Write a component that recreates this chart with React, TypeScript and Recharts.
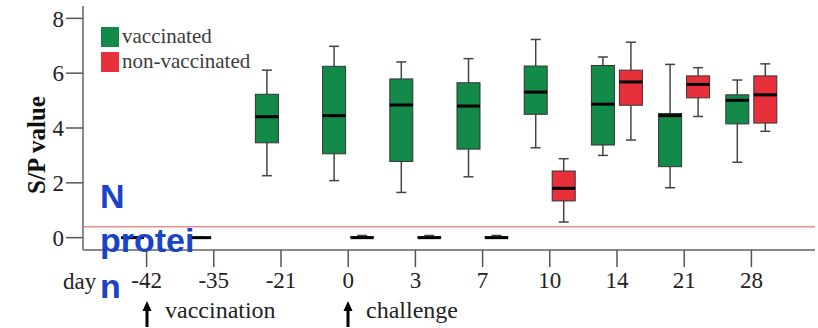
import React from 'react';
import {
  ComposedChart,
  Bar,
  XAxis,
  YAxis,
  ReferenceLine,
  Legend,
} from 'recharts';

// sampling days (x categories)
const days = ['-42', '-35', '-21', '0', '3', '7', '10', '14', '21', '28'];

// [min, q1, median, q3, max] per day, null = not sampled
const vaccinated: (number[] | null)[] = [
  [0, 0, 0, 0, 0.02],
  [0, 0, 0, 0, 0.02],
  [2.26, 3.46, 4.41, 5.23, 6.11],
  [2.08, 3.06, 4.45, 6.25, 6.98],
  [1.65, 2.78, 4.84, 5.79, 6.41],
  [2.22, 3.23, 4.8, 5.65, 6.53],
  [3.28, 4.5, 5.31, 6.26, 7.23],
  [3.0, 3.38, 4.87, 6.28, 6.59],
  [1.82, 2.59, 4.45, 4.53, 6.32],
  [2.75, 4.15, 5.01, 5.21, 5.75],
];

const nonVaccinated: (number[] | null)[] = [
  null,
  null,
  null,
  [0, 0, 0, 0.03, 0.08],
  [0, 0, 0, 0.03, 0.08],
  [0, 0, 0, 0.03, 0.08],
  [0.57, 1.34, 1.8, 2.43, 2.88],
  [3.56, 4.83, 5.68, 6.11, 7.13],
  [4.42, 5.1, 5.59, 5.9, 6.2],
  [3.88, 4.18, 5.21, 5.9, 6.34],
];

const legendOrder = ['vaccinated', 'non-vaccinated'];
const yTicks = [0, 2, 4, 6, 8];
const cutoff = 0.4;

const GREEN = '#138a48';
const RED = '#e8303a';
const SERIF = "'Liberation Serif', 'Times New Roman', serif";

const data = days.map((d, i) => ({
  day: d,
  vac: vaccinated[i],
  non: nonVaccinated[i],
  vacRange: vaccinated[i] ? [vaccinated[i]![0], vaccinated[i]![4]] : null,
  nonRange: nonVaccinated[i] ? [nonVaccinated[i]![0], nonVaccinated[i]![4]] : null,
}));

// draws a whole box plot inside the range bar [min, max] that recharts positioned
function makeBox(key: 'vac' | 'non', fill: string) {
  return (props: any) => {
    const { x, y, width, height, payload } = props;
    const s = payload && payload[key];
    if (!s || x == null || y == null) return <g />;
    const [mn, q1, med, q3, mx] = s;
    const top = Math.min(y, y + height);
    const bot = Math.max(y, y + height);
    const py = (v: number) => (mx === mn ? top : bot - ((v - mn) / (mx - mn)) * (bot - top));
    const cx = x + width / 2;
    const cap = 5;
    return (
      <g>
        <line x1={cx} x2={cx} y1={py(mx)} y2={py(q3)} stroke="#444" strokeWidth={1.5} />
        <line x1={cx} x2={cx} y1={py(q1)} y2={py(mn)} stroke="#444" strokeWidth={1.5} />
        <line x1={cx - cap} x2={cx + cap} y1={py(mx)} y2={py(mx)} stroke="#444" strokeWidth={1.5} />
        <line x1={cx - cap} x2={cx + cap} y1={py(mn)} y2={py(mn)} stroke="#444" strokeWidth={1.5} />
        <rect x={x} y={py(q3)} width={width} height={Math.max(0, py(q1) - py(q3))} fill={fill} stroke="#333" strokeWidth={1} />
        <line x1={x} x2={x + width} y1={py(med)} y2={py(med)} stroke="#000" strokeWidth={3} />
      </g>
    );
  };
}

function renderLegend(props: any) {
  const items = [...(props.payload || [])].sort(
    (a: any, b: any) => legendOrder.indexOf(a.value) - legendOrder.indexOf(b.value)
  );
  return (
    <div style={{ fontFamily: SERIF, fontSize: 21, color: '#3c3c3c' }}>
      {items.map((p: any) => (
        <div key={p.value} style={{ display: 'flex', alignItems: 'center', height: 25, lineHeight: '25px' }}>
          <span style={{ display: 'inline-block', width: 18, height: 20, background: p.color, marginRight: 3 }} />
          <span>{p.value}</span>
        </div>
      ))}
    </div>
  );
}

const Arrow = ({ x }: { x: number }) => (
  <g fill="#000">
    <rect x={x - 1.5} y={309} width={3} height={18} />
    <polygon points={`${x},${301} ${x - 4.5},${311} ${x + 4.5},${311}`} />
  </g>
);

export default function App() {
  const frame = { stroke: '#8a8a8a', strokeWidth: 2 };
  const tickStyle = { fill: '#222', fontSize: 23, fontFamily: SERIF };
  return (
    <div style={{ position: 'absolute', left: 0, top: 0, width: 818, height: 328, background: '#fff' }}>
      <ComposedChart
        width={818}
        height={328}
        data={data}
        margin={{ top: 6, right: 3, bottom: 0, left: 0 }}
        barSize={23}
        barGap={5}
      >
        <XAxis
          dataKey="day"
          height={78}
          interval={0}
          padding={{ left: 30, right: 30 }}
          tickSize={17}
          tickMargin={5}
          tick={tickStyle}
          axisLine={frame}
          tickLine={{ stroke: '#555', strokeWidth: 1.5 }}
        />
        <XAxis xAxisId="top" dataKey="day" orientation="top" height={0} tick={false} tickLine={false} axisLine={frame} padding={{ left: 30, right: 30 }} />
        <YAxis
          width={83}
          type="number"
          domain={[-0.45, 8.45]}
          allowDataOverflow
          ticks={yTicks}
          tickSize={17}
          tickMargin={2}
          tick={tickStyle}
          axisLine={frame}
          tickLine={{ stroke: '#555', strokeWidth: 1.5 }}
        />
        <YAxis yAxisId="right" orientation="right" width={0} type="number" domain={[-0.45, 8.45]} tick={false} tickLine={false} axisLine={frame} />
        <ReferenceLine y={cutoff} stroke="#f28c8c" strokeWidth={1.5} ifOverflow="extendDomain" />
        <Legend
          content={renderLegend}
          layout="horizontal"
          verticalAlign="middle"
          align="center"
          wrapperStyle={{ position: 'absolute', left: 101, top: 24, width: 'auto' }}
        />
        <Bar dataKey="vacRange" name="vaccinated" fill={GREEN} shape={makeBox('vac', GREEN)} isAnimationActive={false} />
        <Bar dataKey="nonRange" name="non-vaccinated" fill={RED} shape={makeBox('non', RED)} isAnimationActive={false} />
      </ComposedChart>
      <svg width={818} height={328} style={{ position: 'absolute', left: 0, top: 0, pointerEvents: 'none' }}>
        <text
          x={45}
          y={145}
          transform="rotate(-90, 45, 145)"
          textAnchor="middle"
          fontFamily={SERIF}
          fontWeight="bold"
          fontSize={25}
          fill="#111"
        >
          S/P value
        </text>
        <text x={63} y={289} fontFamily={SERIF} fontSize={23} fill="#222">day</text>
        <Arrow x={147} />
        <text x={165} y={318} fontFamily={SERIF} fontSize={24} fill="#222">vaccination</text>
        <Arrow x={348} />
        <text x={366} y={318} fontFamily={SERIF} fontSize={24} fill="#222">challenge</text>
        <text fontFamily="'Liberation Sans', Arial, sans-serif" fontWeight="bold" fontSize={34} fill="#1a44c8">
          <tspan x={100} y={208}>N</tspan>
          <tspan x={100} y={252}>protei</tspan>
          <tspan x={100} y={298}>n</tspan>
        </text>
      </svg>
    </div>
  );
}
